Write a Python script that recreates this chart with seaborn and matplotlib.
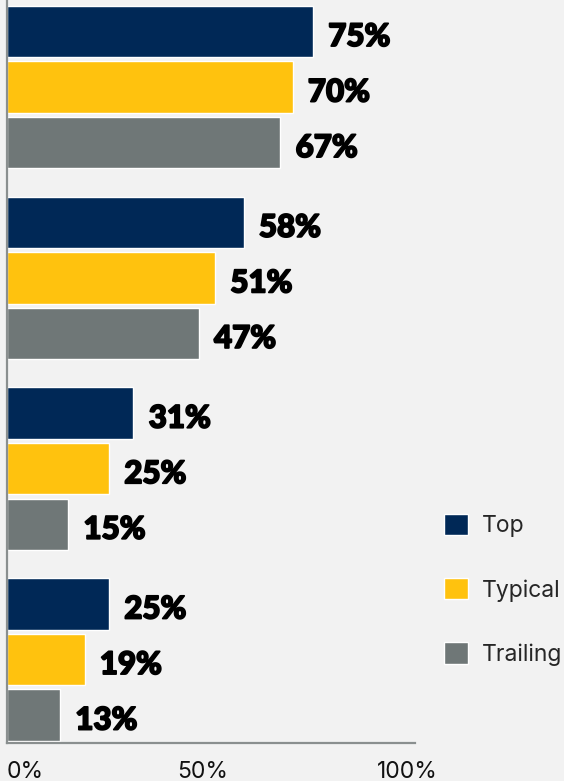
import matplotlib
matplotlib.use('Agg')
import matplotlib.pyplot as plt
import matplotlib.patheffects as pe
from matplotlib.transforms import ScaledTranslation
import seaborn as sns
import pandas as pd

# values (percent)
groups = ['G1', 'G2', 'G3', 'G4']
series = ['Top', 'Typical', 'Trailing']
top_vals = [75, 58, 31, 25]
typical_vals = [70, 51, 25, 19]
trailing_vals = [67, 47, 15, 13]
tick_vals = [0, 50, 100]
tick_labels = ['0%', '50%', '100%']

COLORS = ['#002856', '#FFC20E', '#6F7777']
BG = '#F2F2F2'
SPINE = '#8A8F8F'

df = pd.DataFrame({
    'group': groups * 3,
    'series': [s for s in series for _ in groups],
    'value': top_vals + typical_vals + trailing_vals,
})

sns.set_style('white')
plt.rcParams['font.family'] = ['Inter', 'DejaVu Sans']

fig = plt.figure(figsize=(5.64, 7.81), dpi=100, facecolor=BG)
ax = fig.add_axes([7 / 564, 38 / 781, 408 / 564, 743 / 781])
ax.set_facecolor(BG)

sns.barplot(data=df, y='group', x='value', hue='series', order=groups,
            hue_order=series, palette=COLORS, orient='h', width=0.873,
            gap=0.075, saturation=1, ax=ax, legend=True)

ax.set_xlim(0, 100)
ax.set_ylim(3.4376, -0.456)
ax.set_xlabel('')
ax.set_ylabel('')
ax.set_yticks([])
ax.set_xticks(tick_vals)
ax.set_xticklabels(tick_labels, fontsize=16.5, color='#111111')
ax.tick_params(axis='x', length=0, pad=13)
xt = ax.get_xticklabels()
xt[0].set_ha('left')
for lab in xt[1:]:
    lab.set_transform(lab.get_transform() + ScaledTranslation(-8 / 100, 0, fig.dpi_scale_trans))

for side in ['top', 'right']:
    ax.spines[side].set_visible(False)
for side in ['left', 'bottom']:
    ax.spines[side].set_color(SPINE)
    ax.spines[side].set_linewidth(1.6)

# heavy value labels, nudged a little below the bar centre like the original
for cont in ax.containers:
    texts = ax.bar_label(cont, fmt='%d%%', padding=11, fontsize=22.5,
                         fontweight='black', family=['Lato', 'DejaVu Sans'],
                         color='black')
    for t in texts:
        t.xyann = (11, -4)
        t.set_path_effects([pe.withStroke(linewidth=1.3, foreground='black')])

handles, labels = ax.get_legend_handles_labels()
ax.legend(handles, labels, loc='upper left',
          bbox_to_anchor=(444 / 564, 1 - 514 / 781),
          bbox_transform=fig.transFigure, frameon=False,
          fontsize=16.5, handlelength=1.05, handleheight=1.05,
          handletextpad=0.6, labelspacing=1.78, borderpad=0,
          borderaxespad=0)

fig.savefig('out.png', dpi=100, facecolor=BG)
